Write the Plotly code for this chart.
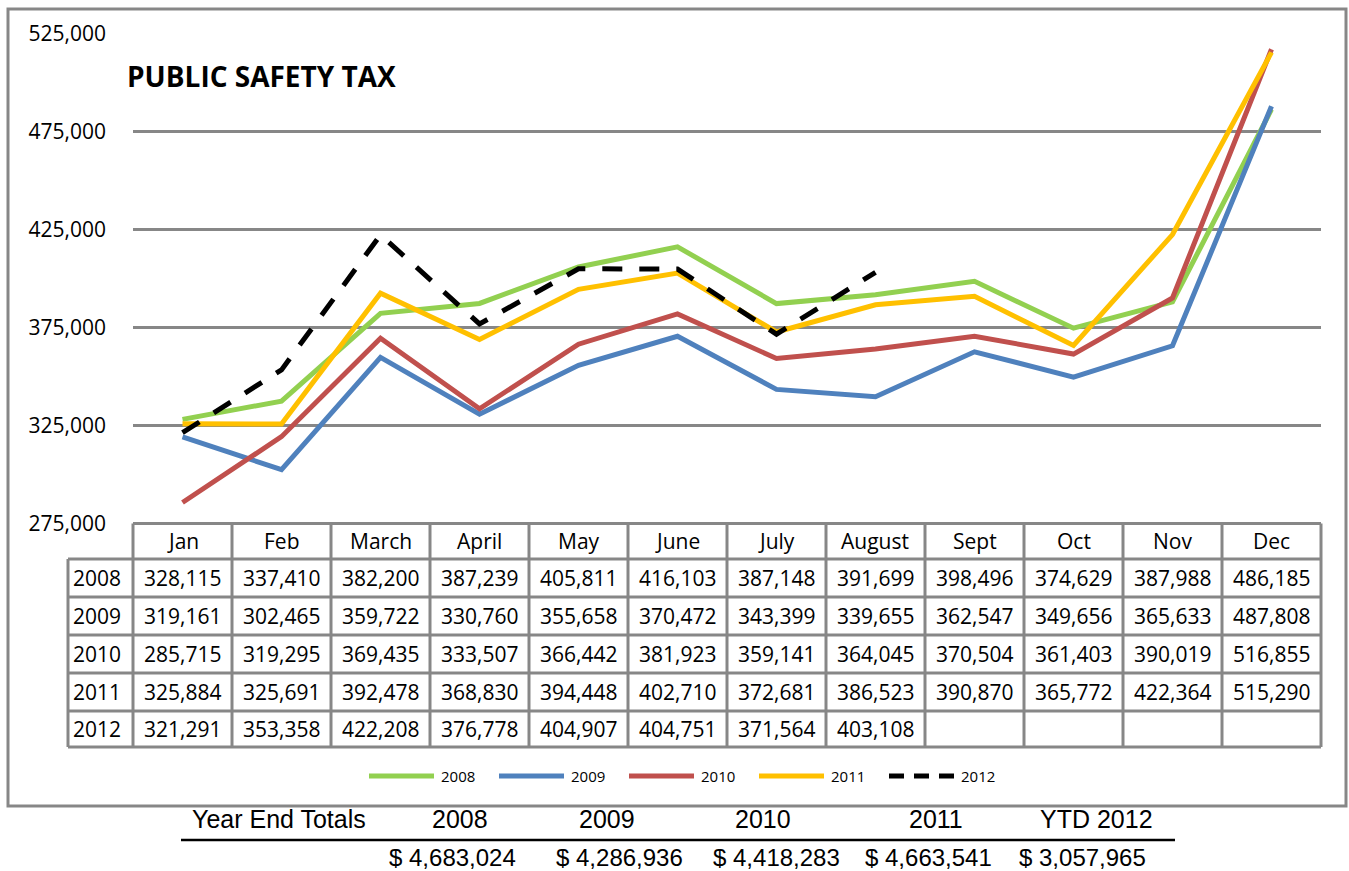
import plotly.graph_objects as go

# ---------------- data ----------------
months = ["Jan", "Feb", "March", "April", "May", "June", "July", "August",
          "Sept", "Oct", "Nov", "Dec"]
years = ["2008", "2009", "2010", "2011", "2012"]
v2008 = [328115, 337410, 382200, 387239, 405811, 416103, 387148, 391699, 398496, 374629, 387988, 486185]
v2009 = [319161, 302465, 359722, 330760, 355658, 370472, 343399, 339655, 362547, 349656, 365633, 487808]
v2010 = [285715, 319295, 369435, 333507, 366442, 381923, 359141, 364045, 370504, 361403, 390019, 516855]
v2011 = [325884, 325691, 392478, 368830, 394448, 402710, 372681, 386523, 390870, 365772, 422364, 515290]
v2012 = [321291, 353358, 422208, 376778, 404907, 404751, 371564, 403108, None, None, None, None]
series = [v2008, v2009, v2010, v2011, v2012]
colors = ["#92D050", "#4F81BD", "#C0504D", "#FFC000", "#000000"]
y_ticks = [275000, 325000, 375000, 425000, 475000, 525000]
total_labels = ["2008", "2009", "2010", "2011", "YTD 2012"]
total_values = ["$ 4,683,024", "$ 4,286,936", "$ 4,418,283", "$ 4,663,541", "$ 3,057,965"]
title_text = "PUBLIC SAFETY TAX"

# ---------------- layout geometry (pixels) ----------------
W, H = 1349, 871
PLOT_L, PLOT_R = 133, 1321
PLOT_T, PLOT_B = 33.3, 523.5
COLW = (PLOT_R - PLOT_L) / len(months)
ROW_LABEL_L = 68
ROW_EDGES = [PLOT_B, 559, 597, 635, 673, 711, 747]
GRID = "#878787"
FONT = "Open Sans"


def px(x):
    return x / W


def py(y):
    return 1 - y / H


fig = go.Figure()
for name, vals, col in zip(years, series, colors):
    fig.add_trace(go.Scatter(
        x=list(range(len(months))), y=vals, name=name, mode="lines",
        line=dict(color=col, width=5, dash="20px,17px" if name == "2012" else "solid"),
        connectgaps=False, showlegend=False, hoverinfo="skip",
    ))

shapes = []
annotations = []

# outer frame
shapes.append(dict(type="rect", xref="paper", yref="paper",
                   x0=px(8), x1=px(1346), y0=py(806), y1=py(9),
                   line=dict(color=GRID, width=3)))

# data table grid
for k, yy in enumerate(ROW_EDGES):
    x0 = PLOT_L if k == 0 else ROW_LABEL_L
    shapes.append(dict(type="line", xref="paper", yref="paper",
                       x0=px(x0), x1=px(PLOT_R), y0=py(yy), y1=py(yy),
                       line=dict(color=GRID, width=3)))
shapes.append(dict(type="line", xref="paper", yref="paper",
                   x0=px(ROW_LABEL_L), x1=px(ROW_LABEL_L),
                   y0=py(ROW_EDGES[1]), y1=py(ROW_EDGES[-1]),
                   line=dict(color=GRID, width=3)))
for k in range(len(months) + 1):
    xx = PLOT_L + k * COLW
    shapes.append(dict(type="line", xref="paper", yref="paper",
                       x0=px(xx), x1=px(xx), y0=py(ROW_EDGES[0]), y1=py(ROW_EDGES[-1]),
                       line=dict(color=GRID, width=3)))

cell_font = dict(family=FONT, size=21, color="#000000")
# header months
for i, m in enumerate(months):
    annotations.append(dict(xref="paper", yref="paper", x=px(PLOT_L + (i + 0.5) * COLW),
                            y=py((ROW_EDGES[0] + ROW_EDGES[1]) / 2), text=m, showarrow=False,
                            xanchor="center", yanchor="middle", font=cell_font))
# rows
for r, (name, vals) in enumerate(zip(years, series)):
    yc = py((ROW_EDGES[r + 1] + ROW_EDGES[r + 2]) / 2)
    annotations.append(dict(xref="paper", yref="paper", x=px(71), y=yc, text=name,
                            showarrow=False, xanchor="left", yanchor="middle", font=cell_font))
    for i, v in enumerate(vals):
        if v is None:
            continue
        annotations.append(dict(xref="paper", yref="paper", x=px(PLOT_L + (i + 0.5) * COLW),
                                y=yc, text=f"{v:,}", showarrow=False,
                                xanchor="center", yanchor="middle", font=cell_font))

# custom legend
LEG_Y = 776
for i, (name, col) in enumerate(zip(years, colors)):
    x0 = 369 + i * 130
    shapes.append(dict(type="line", xref="paper", yref="paper",
                       x0=px(x0), x1=px(x0 + 65), y0=py(LEG_Y), y1=py(LEG_Y),
                       line=dict(color=col, width=5,
                                 dash="15px,10px" if name == "2012" else "solid")))
    annotations.append(dict(xref="paper", yref="paper", x=px(x0 + 70), y=py(LEG_Y),
                            text=name, showarrow=False, xanchor="left", yanchor="middle",
                            font=dict(family=FONT, size=15, color="#000000")))

# title
annotations.append(dict(xref="paper", yref="paper", x=px(125), y=py(76), text=title_text,
                        showarrow=False, xanchor="left", yanchor="middle",
                        font=dict(family=FONT, size=28, color="#000000", weight=700)))

# year end totals block
tot_font = dict(family="Liberation Sans", size=25, color="#000000")
val_font = dict(family="Liberation Sans", size=24, color="#000000")
annotations.append(dict(xref="paper", yref="paper", x=px(190), y=py(819),
                        text="Year End Totals", showarrow=False, xanchor="left",
                        yanchor="middle", font=tot_font))
hdr_cx = [460, 607, 763, 936, 1096]
val_rx = [518, 685, 842, 994, 1148]
for lab, cx in zip(total_labels, hdr_cx):
    annotations.append(dict(xref="paper", yref="paper", x=px(cx), y=py(819), text=lab,
                            showarrow=False, xanchor="center", yanchor="middle", font=tot_font))
for val, rx in zip(total_values, val_rx):
    annotations.append(dict(xref="paper", yref="paper", x=px(rx), y=py(857), text=val,
                            showarrow=False, xanchor="right", yanchor="middle", font=val_font))
shapes.append(dict(type="line", xref="paper", yref="paper", x0=px(181), x1=px(1175),
                   y0=py(840), y1=py(840), line=dict(color="#000000", width=2.5)))

fig.update_layout(
    template="none",
    width=W, height=H, margin=dict(l=0, r=0, t=0, b=0, pad=0, autoexpand=False),
    paper_bgcolor="white", plot_bgcolor="white",
    showlegend=False, shapes=shapes, annotations=annotations,
    xaxis=dict(domain=[px(PLOT_L), px(PLOT_R)], range=[-0.5, len(months) - 0.5],
               showgrid=False, zeroline=False, showticklabels=False, showline=False,
               automargin=False, ticks=""),
    yaxis=dict(domain=[py(PLOT_B), py(PLOT_T)], range=[y_ticks[0], y_ticks[-1]],
               tickvals=y_ticks, ticktext=[f"{t:,}" for t in y_ticks],
               showgrid=True, gridcolor=GRID, gridwidth=3, zeroline=False, showline=False,
               ticks="", ticklabelstandoff=26, automargin=False,
               tickfont=dict(family=FONT, size=21, color="#000000")),
)

fig.write_html("out.html", config={"displayModeBar": False},
               post_script="document.body.style.margin='0';document.body.style.overflow='hidden';")
